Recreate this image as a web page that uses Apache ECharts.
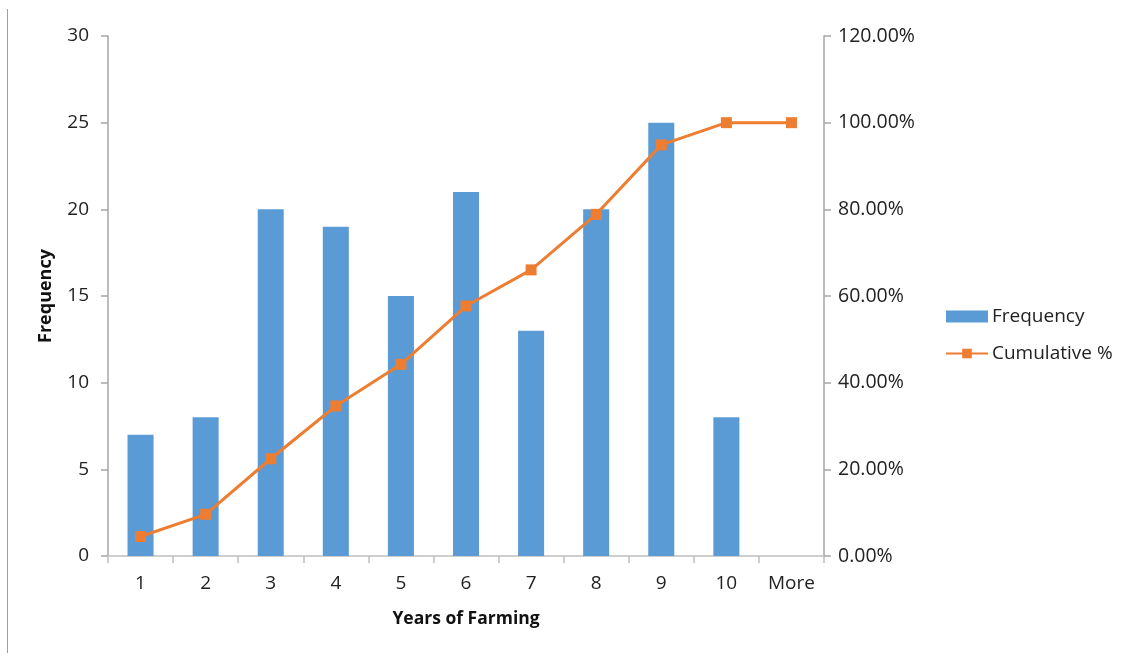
<!DOCTYPE html>
<html><head><meta charset="utf-8">
<script src="https://cdn.jsdelivr.net/npm/echarts@6/dist/echarts.min.js"></script>
<style>html,body{margin:0;padding:0;background:#fff}#c{width:1126px;height:653px}</style>
</head><body><div id="c"></div>
<script>
const categories = ['1','2','3','4','5','6','7','8','9','10','More'];
const frequency = [7, 8, 20, 19, 15, 21, 13, 20, 25, 8, 0];
const cumulativePct = [4.49, 9.62, 22.44, 34.62, 44.23, 57.69, 66.03, 78.85, 94.87, 100, 100];
const leftTicks = {min: 0, max: 30, interval: 5};
const rightTicks = {min: 0, max: 120, interval: 20};

const FONT = '"Open Sans", "Liberation Sans", sans-serif';
const chart = echarts.init(document.getElementById('c'));
chart.setOption({
  animation: false,
  textStyle: {fontFamily: FONT},
  grid: {left: 108, right: 302, top: 36, bottom: 97, containLabel: false},
  graphic: [{type: 'line', shape: {x1: 7.5, y1: 9, x2: 7.5, y2: 653}, style: {stroke: '#a0a0a0', lineWidth: 1}}],
  legend: {
    orient: 'vertical', left: 940, top: 302, itemGap: 18, itemWidth: 42, itemHeight: 12,
    textStyle: {fontFamily: FONT, fontSize: 19, color: '#222', padding: [0,0,0,-1]},
    data: [{name: 'Frequency', icon: 'rect'}, {name: 'Cumulative %'}]
  },
  xAxis: {
    type: 'category', data: categories,
    name: 'Years of Farming', nameLocation: 'middle', nameGap: 54,
    nameTextStyle: {fontFamily: FONT, fontWeight: 'bold', fontSize: 17.5, color: '#111'},
    axisLine: {lineStyle: {color: '#bfbfbf', width: 1.5}},
    axisTick: {show: true, length: 7, lineStyle: {color: '#bfbfbf', width: 1.5}},
    axisLabel: {fontFamily: FONT, fontSize: 19, color: '#222', margin: 18}
  },
  yAxis: [{
    type: 'value', min: leftTicks.min, max: leftTicks.max, interval: leftTicks.interval,
    name: 'Frequency', nameLocation: 'middle', nameGap: 53, nameRotate: 90,
    nameTextStyle: {fontFamily: FONT, fontWeight: 'bold', fontSize: 18, color: '#111'},
    axisLine: {show: true, lineStyle: {color: '#a6a6a6', width: 1.5}},
    axisTick: {show: true, length: 7, lineStyle: {color: '#a6a6a6', width: 1.5}},
    splitLine: {show: false},
    axisLabel: {fontFamily: FONT, fontSize: 19, color: '#222', margin: 19}
  }, {
    type: 'value', min: rightTicks.min, max: rightTicks.max, interval: rightTicks.interval,
    position: 'right',
    axisLine: {show: true, lineStyle: {color: '#a6a6a6', width: 1.5}},
    axisTick: {show: true, length: 7, lineStyle: {color: '#a6a6a6', width: 1.5}},
    splitLine: {show: false},
    axisLabel: {fontFamily: FONT, fontSize: 19.5, color: '#222', margin: 14,
      formatter: v => v.toFixed(2) + '%'}
  }],
  series: [{
    name: 'Frequency', type: 'bar', data: frequency, barWidth: '40%',
    itemStyle: {color: '#5b9bd5'}
  }, {
    name: 'Cumulative %', type: 'line', yAxisIndex: 1, data: cumulativePct,
    symbol: 'rect', symbolSize: 11,
    lineStyle: {color: '#ed7d31', width: 3},
    itemStyle: {color: '#ed7d31'}
  }]
});
</script></body></html>
